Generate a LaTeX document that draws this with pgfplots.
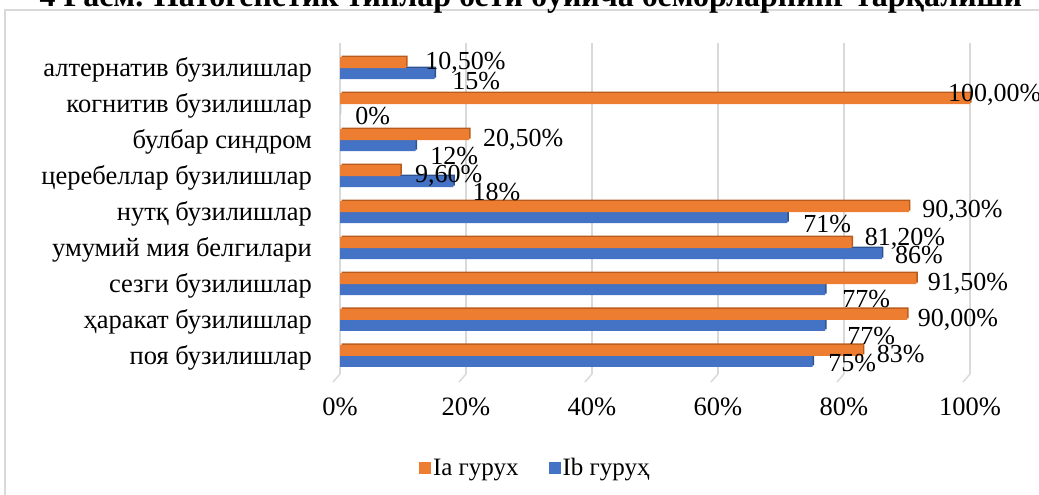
\documentclass[border=0pt]{standalone}
\usepackage{fontspec}
\setmainfont{Liberation Serif}
\usepackage{graphicx}
\usepackage{pgfplots}
\pgfplotsset{compat=1.18}
\definecolor{cOr}{HTML}{ED7D31}
\definecolor{cOrD}{HTML}{B85A1B}
\definecolor{cBl}{HTML}{4472C4}
\definecolor{cBlD}{HTML}{2F528F}
\definecolor{cGrid}{HTML}{D9D9D9}

\pgfplotstableread{
y  ia    ib
0  83    75
1  90    77
2  91.5  77
3  81.2  86
4  90.3  71
5  9.6   18
6  20.5  12
7  100   0
8  10.5  15
}\datatab

\begin{document}
\begin{tikzpicture}
\path[use as bounding box] (0pt,0pt) rectangle (1039pt,495pt);
\draw[cGrid, line width=1.5pt] (5pt,-5pt) -- (5pt,485pt) -- (1045pt,485pt);
\node[font=\fontsize{32}{36}\selectfont\bfseries, anchor=base] at (531pt,488pt) {4 Расм. Патогенетик типлар бети бўйича беморларнинг тарқалиши};
\begin{axis}[
  at={(340pt,121pt)}, anchor=south west, scale only axis,
  width=630pt, height=331.2pt,
  xmin=0, xmax=100, ymin=-0.5, ymax=8.7,
  clip=false,
  axis line style={draw=none},
  major tick length=0pt,
  xmajorgrids, major grid style={cGrid, line width=1.5pt},
  xtick={0,20,40,60,80,100},
  xticklabels={0\%,20\%,40\%,60\%,80\%,100\%},
  xticklabel style={font=\fontsize{26.5}{30}\selectfont, anchor=north, inner sep=0pt, yshift=-24pt},
  ytick={0,1,2,3,4,5,6,7,8},
  yticklabels={поя бузилишлар, ҳаракат бузилишлар, сезги бузилишлар, умумий мия белгилари, нутқ бузилишлар, церебеллар бузилишлар, булбар синдром, когнитив бузилишлар, алтернатив бузилишлар},
  yticklabel style={font=\fontsize{26.5}{30}\selectfont, anchor=east, inner sep=0pt, xshift=-28pt, yshift=-2pt},
  legend style={at={(axis description cs:0.31,-0.284)}, anchor=center, draw=none, fill=none,
    font=\fontsize{25}{30}\selectfont, /tikz/every even column/.append style={column sep=28pt}},
  legend columns=2, reverse legend, legend cell align=left,
]
\pgfplotsinvokeforeach{0,20,40,60,80,100}{
  \draw[cGrid, line width=1.5pt] (axis cs:#1,-0.5) -- ++(-7pt,-8pt);
}
\addplot[xbar, bar width=11pt, bar shift=-5.5pt, fill=cBlD, draw=none, xshift=1.5pt, yshift=1.5pt, forget plot] table[x=ib, y=y] {\datatab};
\addplot[xbar, bar width=11pt, bar shift=-5.5pt, fill=cBl, draw=none,
  legend image code/.code={\fill[cBl] (0pt,-6pt) rectangle (12pt,6pt);}] table[x=ib, y=y] {\datatab};
\addlegendentry{Ib гуруҳ}
\addplot[xbar, bar width=11pt, bar shift=5.5pt, fill=cOrD, draw=none, xshift=1.5pt, yshift=1.5pt, forget plot] table[x=ia, y=y] {\datatab};
\addplot[xbar, bar width=11pt, bar shift=5.5pt, fill=cOr, draw=none,
  legend image code/.code={\fill[cOr] (0pt,-6pt) rectangle (12pt,6pt);}] table[x=ia, y=y] {\datatab};
\addlegendentry{Ia гурух}
% data labels, placed as in the reference
\addplot[draw=none, mark=none, forget plot, nodes near coords, point meta=explicit symbolic,
  nodes near coords style={anchor=base west, inner sep=0pt, font=\fontsize{26}{30}\selectfont}]
  table[x=x, y=y, meta=lab] {
x     y      lab
13.5  7.97   10,50\%
17.8  7.39   15\%
2.4   6.42   0\%
22.7  5.81   20,50\%
14.3  5.31   12\%
11.9  4.81   9,60\%
21.0  4.33   18\%
96.5  7.08   100,00\%
92.4  3.86   90,30\%
73.5  3.42   71\%
83.3  3.08   81,20\%
88.1  2.58   86\%
93.3  1.83   91,50\%
79.7  1.36   77\%
91.7  0.83   90,00\%
80.5  0.31   77\%
85.2  -0.17  83\%
77.5  -0.42  75\%
};
\end{axis}
\end{tikzpicture}
\end{document}
